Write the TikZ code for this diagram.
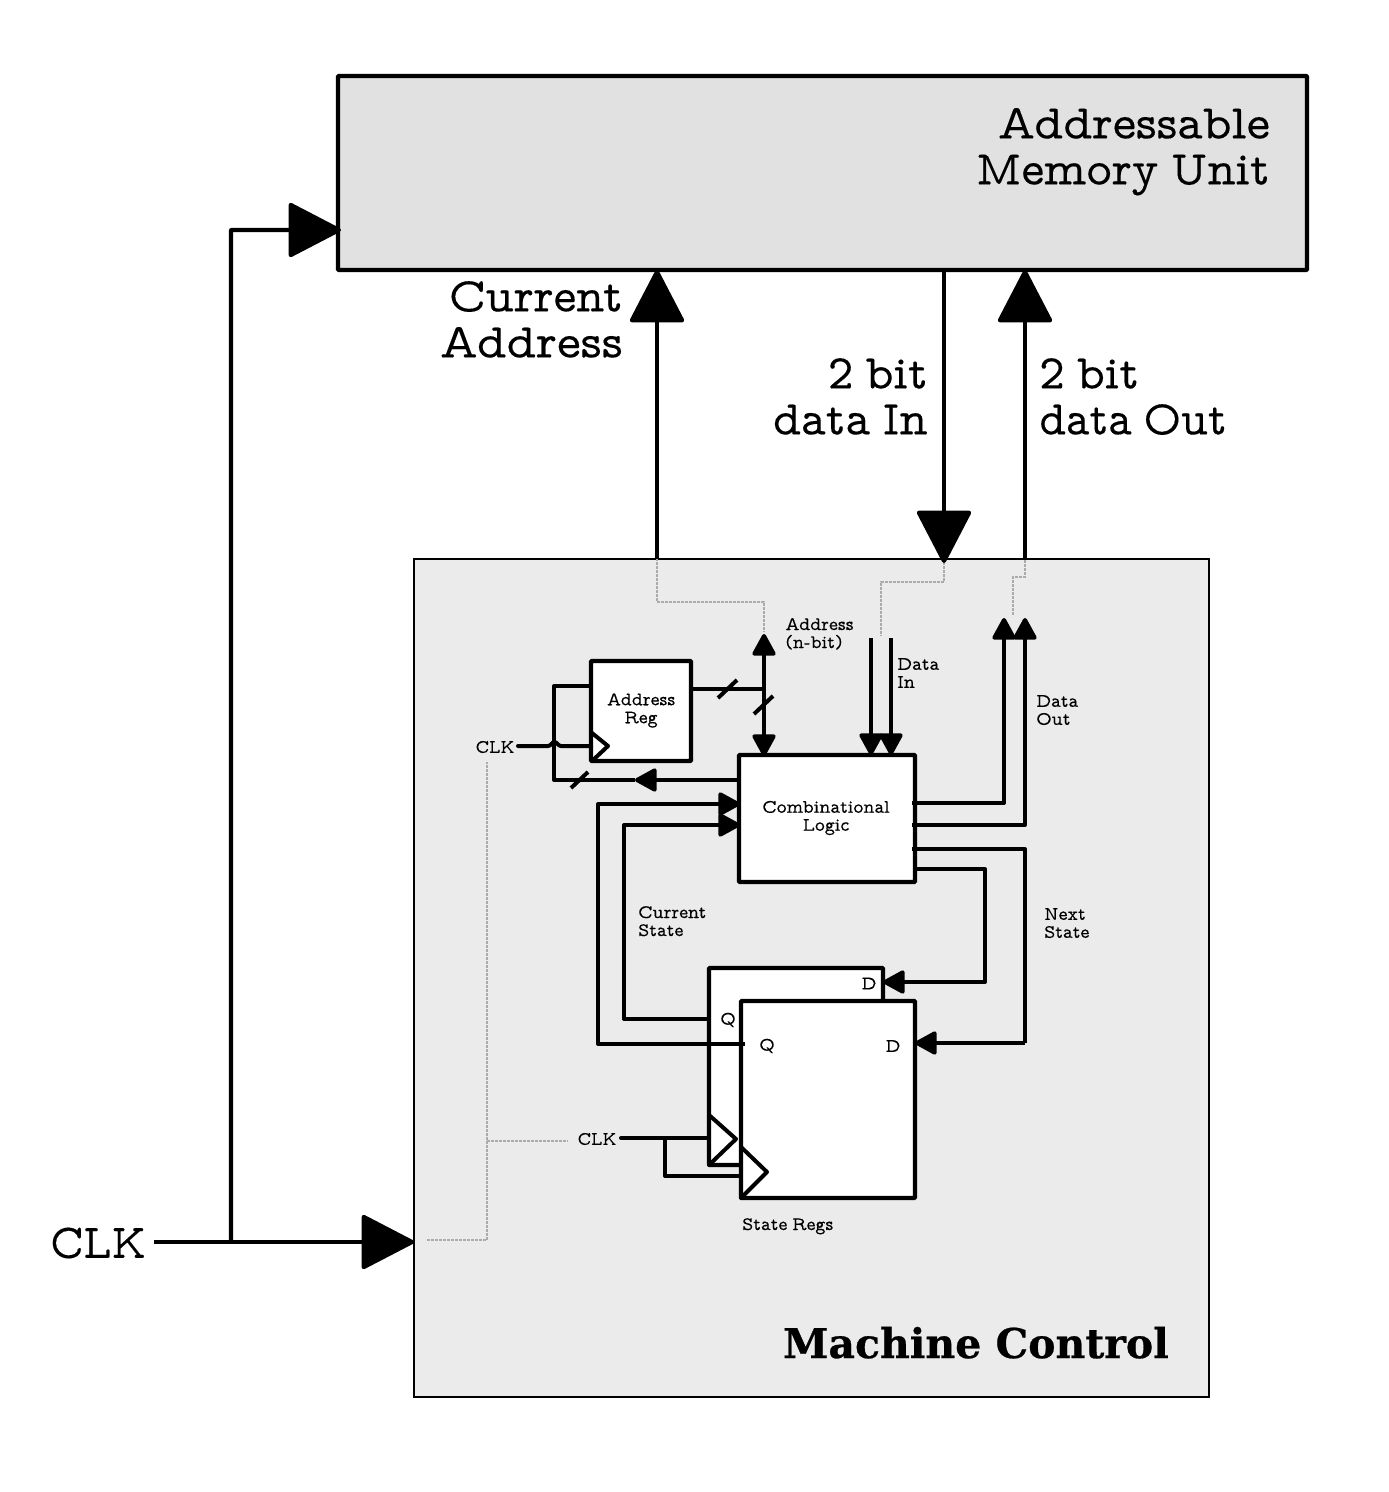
\documentclass[tikz,border=0pt]{standalone}
\usepackage{fontspec}
\setmainfont[FakeBold=0.25,WordSpace=0.72]{Latin Modern Mono Prop}
\newfontfamily\boldslab[FakeBold=0.6]{DejaVu Serif Bold}
\newcommand{\stretched}[2]{{\addfontfeature{FakeStretch=#1}#2}}
\usetikzlibrary{arrows.meta}
\definecolor{memfill}{HTML}{E1E1E1}
\definecolor{ctlfill}{HTML}{EBEBEB}
\definecolor{guide}{HTML}{ABABAB}
\tikzset{
  x=1pt,y=-1pt,
  box/.style={draw=black,line width=4.3pt,rounded corners=1pt,inner sep=0pt,outer sep=0pt,anchor=north west,fill=white},
  bus/.style={line width=4.3pt,line join=round,rounded corners=0.5pt,
    -{Triangle[length=55pt,width=56pt,round]}},
  wire/.style={line width=4pt,line join=round},
  sig/.style={wire,-{Triangle[length=24pt,width=25pt,round]}},
  sigboth/.style={wire,{Triangle[length=24pt,width=25pt,round]}-{Triangle[length=24pt,width=25pt,round]}},
  guideline/.style={draw=guide,line width=1.5pt,dash pattern=on 3pt off 1pt},
  big/.style={font=\fontsize{48.5}{46}\selectfont,align=right,inner sep=0pt},
  small/.style={font=\fontsize{19}{18}\selectfont,align=left,inner sep=0pt},
}
\begin{document}
\begin{tikzpicture}
\useasboundingbox (0,0) rectangle (1389,1492);
% main boxes
\node[box,fill=memfill,minimum width=969pt,minimum height=194pt] (mem) at (338,76) {};
\node[anchor=north west,draw=black,line width=1.2pt,fill=ctlfill,inner sep=0pt,outer sep=0pt,minimum width=795pt,minimum height=838pt] (ctl) at (414,559) {};
\node[big,anchor=north east] (memlabel) at (1270,108) {\stretched{1.03}{Addressable}\\Memory Unit};
\node[anchor=base east,inner sep=0pt,font=\boldslab\fontsize{41}{42}\selectfont] (ctllabel) at (1169,1358) {Machine Control};
% outer labels
\node[big,anchor=north east] (curaddr) at (623,281) {Current\\\stretched{1.05}{Address}};
\node[big,anchor=north east] (din) at (928,358) {2 bit\\data In};
\node[big,anchor=north west,align=left] (dout) at (1039,358) {2 bit\\\stretched{0.95}{data Out}};
\node[big,anchor=east] (clk) at (146,1243) {\stretched{0.9}{CLK}};
% guides
\coordinate (gA) at (657,558);
\coordinate (gB) at (764,632);
\coordinate (gC) at (944,562);
\coordinate (gD) at (881,636);
\coordinate (gE) at (1025,560);
\coordinate (gF) at (1013,616);
\coordinate (gG) at (427,1240);
\coordinate (gH) at (487,762);
\coordinate (gJ) at (487,1141);
\coordinate (gK) at (568,1141);
\draw[guideline] (gA) |- (710,602) -| (gB);
\draw[guideline] (gC) |- (912,582) -| (gD);
\draw[guideline] (gE) |- (1019,577) -| (gF);
\draw[guideline] (gG) -| (gH);
\draw[guideline] (gJ) -- (gK);
% outer connectors
\coordinate (clkfork) at (231,1242);
\coordinate (clkin) at (ctl.west |- clkfork);
\coordinate (memclk) at (341,230);
\coordinate (aTop) at (657,270);
\coordinate (dTop) at (944,270);
\coordinate (dBot) at (944,563);
\coordinate (oTop) at (1025,270);
\coordinate (aBot) at (657,559);
\coordinate (oBot) at (1025,560);
\draw[bus] (clk.east) ++(8,-1) -- (clkin);
\draw[bus] (clkfork) |- (memclk);
\draw[bus] (aBot) -- (aTop);
\draw[bus] (dTop) -- (dBot);
\draw[bus] (oBot) -- (oTop);
% internal boxes
\node[box,minimum width=100pt,minimum height=100pt] (areg) at (591,661) {};
\node[box,minimum width=176pt,minimum height=127pt] (comb) at (739,755) {};
\node[box,minimum width=174pt,minimum height=197pt] (sback) at (709,968) {};
\node[small,align=center] (aregl) at (641,710.5) {Address\\Reg};
\node[small,align=center] (combl) at (826,818) {Combinational\\Logic};
\node[small,anchor=north west] (addrl) at (785,618) {Address\\(n-bit)};
\node[small,anchor=north west] (dinl) at (897,658) {Data\\In};
\node[small,anchor=north west] (doutl) at (1036,695) {Data\\Out};
\node[small,anchor=north west] (curl) at (638,906) {Current\\State};
\node[small,anchor=north west] (nextl) at (1044,908) {Next\\State};
\node[small] (clkA) at (495,747) {\stretched{0.93}{CLK}};
\node[small] (clkB) at (597,1139) {\stretched{0.93}{CLK}};
\node[small,anchor=north west] (sregl) at (742,1218) {State Regs};
\node[small] (dback) at (869,983.5) {D};
\node[small] (qback) at (728,1020) {Q};
% wires
\coordinate (busT) at (764,634);
\coordinate (busB) at (764,756);
\coordinate (busJ) at (764,689);
\draw[wire] (areg.east |- busJ) -- (busJ);
\draw[sigboth] (busB) -- (busT);
\coordinate (s1a) at (718,698); \coordinate (s1b) at (737,680);
\coordinate (s2a) at (754,714); \coordinate (s2b) at (773,696);
\coordinate (s3a) at (571,788); \coordinate (s3b) at (588,772);
\draw[wire] (s1a) -- (s1b);
\draw[wire] (s2a) -- (s2b);
\draw[wire] (s3a) -- (s3b);
\coordinate (fbR) at (739,780);
\coordinate (fbM) at (635,780);
\coordinate (fbC) at (554,780);
\coordinate (fbT) at (554,686);
\draw[sig] (fbR) -- (fbM);
\draw[wire] (fbM) -- (fbC) -- (fbT) -- (areg.west |- fbT);
\coordinate (cA1) at (518,746);
\coordinate (cA2) at (548,746);
\coordinate (cA3) at (561,746);
\draw[wire,line cap=round] (cA1) -- (cA2) .. controls (551,746) and (552,742) .. (554.5,742) .. controls (557,742) and (558,746) .. (cA3) -- (areg.west |- cA3);
\coordinate (ack1) at (592,733); \coordinate (ack2) at (608,746); \coordinate (ack3) at (592,761);
\draw[wire,line cap=round] (ack1) -- (ack2) -- (ack3);
% data in
\coordinate (i1) at (871,638); \coordinate (i2) at (891,638);
\draw[sig] (i1) -- (i1 |- comb.north);
\draw[sig] (i2) -- (i2 |- comb.north);
% data out
\coordinate (o1a) at (912,803); \coordinate (o1b) at (1004,803); \coordinate (o1c) at (1004,618);
\coordinate (o2a) at (912,825); \coordinate (o2b) at (1025,825); \coordinate (o2c) at (1025,618);
\draw[sig] (o1a) -- (o1b) -- (o1c);
\draw[sig] (o2a) -- (o2b) -- (o2c);
% feedback Q -> comb
\coordinate (q2) at (624,1019); \coordinate (q2i) at (740,825); \coordinate (q2o) at (709,1019);
\draw[sig] (q2o) -- (q2) |- (q2i);
% next state
\coordinate (n1a) at (915,869); \coordinate (n1b) at (985,869); \coordinate (n1c) at (985,982);
\draw[wire] (n1a) -- (n1b) -- (n1c) -- (sback.east |- n1c);
\draw[sig] (n1c) -- (sback.east |- n1c);
% clock stubs of back register
\coordinate (cB1) at (621,1138); \coordinate (cBf) at (665,1138);
\draw[wire,line cap=round] (cB1) -- (sback.west |- cB1);
\coordinate (bck1) at (709,1115); \coordinate (bck2) at (736,1139); \coordinate (bck3) at (709,1165);
\draw[wire,line cap=round] (bck1) -- (bck2) -- (bck3);
% front register
\node[box,minimum width=174pt,minimum height=197pt] (sfront) at (741,1001) {};
\node[small] (qfront) at (767,1046) {Q};
\node[small] (dfront) at (893,1046) {D};
\coordinate (fck1) at (741,1147); \coordinate (fck2) at (767,1172); \coordinate (fck3) at (741,1198);
\draw[wire,line cap=round] (fck1) -- (fck2) -- (fck3);
\coordinate (cBe) at (741,1176);
\draw[wire] (cBf) |- (cBe);
\coordinate (q1o) at (745,1044); \coordinate (q1) at (598,1044); \coordinate (q1i) at (740,804);
\draw[sig] (q1o) -- (q1) |- (q1i);
\coordinate (n2a) at (912,849); \coordinate (n2b) at (1025,849); \coordinate (n2c) at (1025,1043);
\draw[wire] (n2a) -- (n2b) -- (n2c);
\draw[sig] (n2c) -- (sfront.east |- n2c);
\end{tikzpicture}
\end{document}
